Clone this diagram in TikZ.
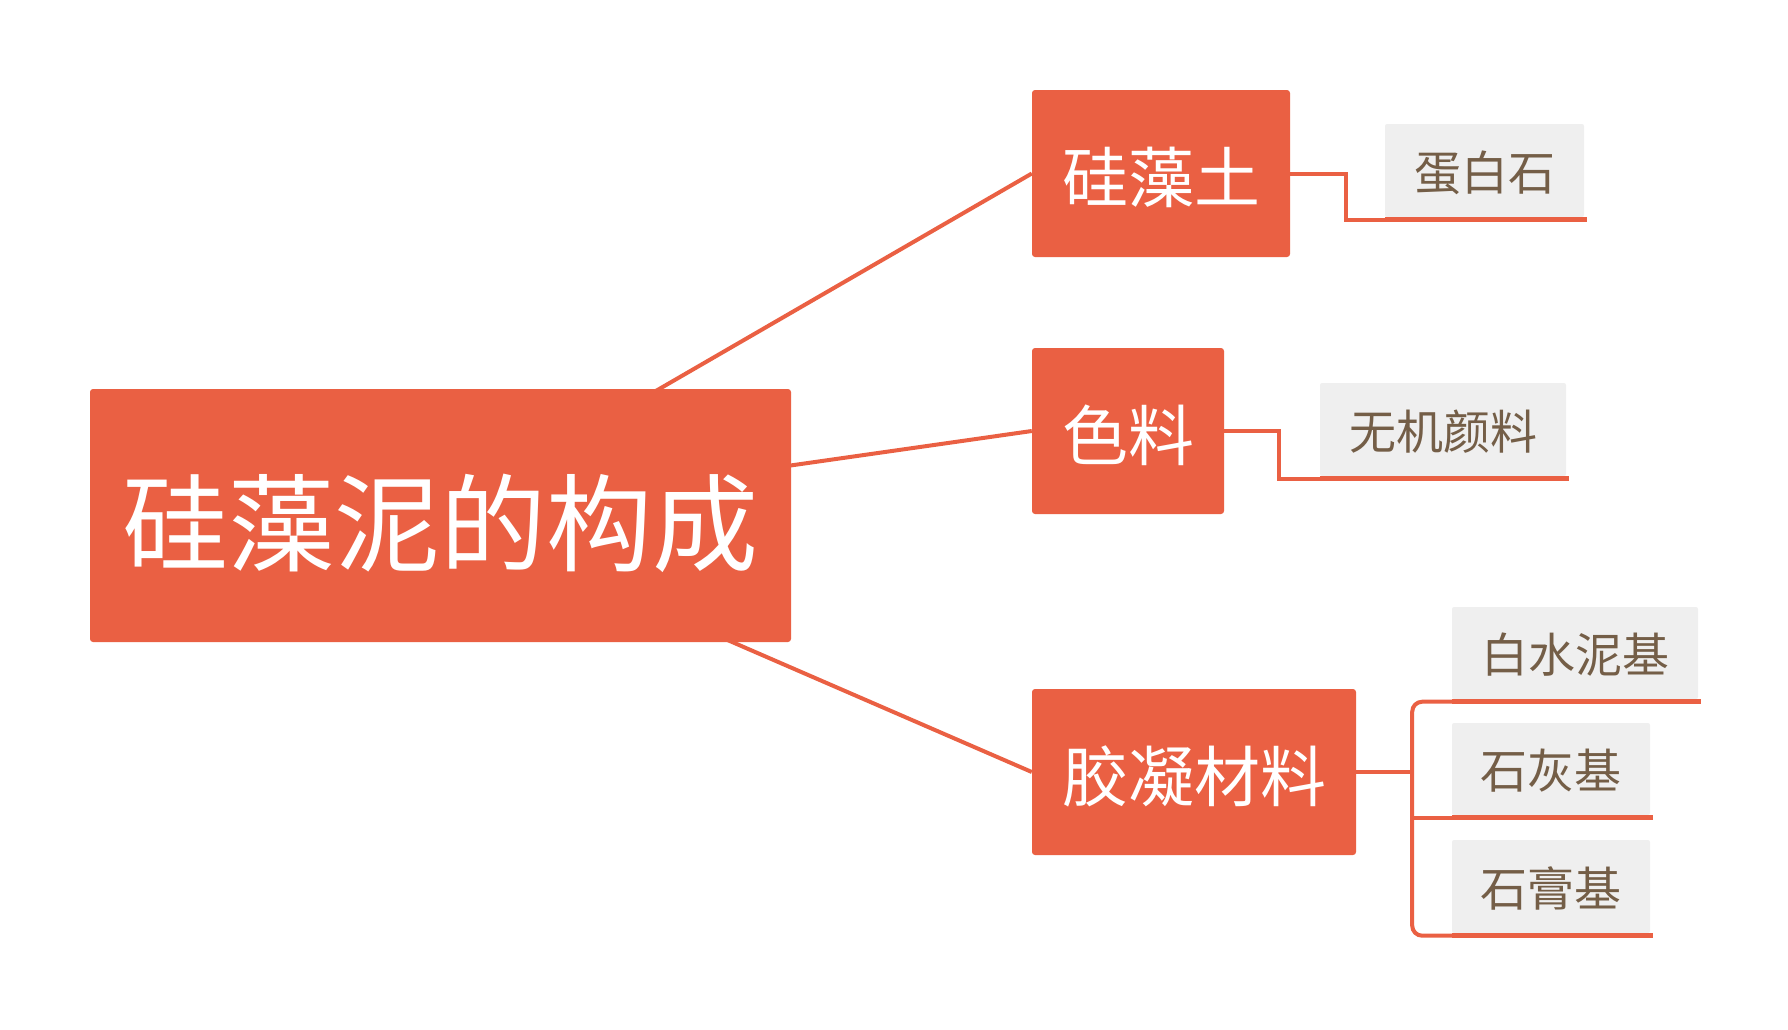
\documentclass[tikz,border=0pt]{standalone}
\usepackage{fontspec}
\newfontfamily\cjk{Noto Sans CJK SC}
\usetikzlibrary{calc,backgrounds}
\definecolor{brorange}{RGB}{234,96,67}
\definecolor{leafgray}{RGB}{239,239,239}
\definecolor{leafbrown}{RGB}{116,94,71}
\newcommand{\lowered}[2]{\raisebox{-#1pt}[\height][\depth]{#2}}
\tikzset{
  rootbox/.style={fill=brorange,text=white,rounded corners=3,inner sep=0,
    font=\cjk\fontsize{106}{110}\selectfont},
  midbox/.style={fill=brorange,text=white,rounded corners=3,inner sep=0,
    font=\cjk\fontsize{66}{70}\selectfont},
  leafbox/.style={fill=leafgray,text=leafbrown,rounded corners=2,inner sep=0,
    font=\cjk\fontsize{47}{50}\selectfont},
  conn/.style={draw=brorange,line width=4},
  uline/.style={draw=brorange,line width=5.5},
}
\begin{document}
\begin{tikzpicture}[x=1pt,y=-1pt]
\useasboundingbox (0,0) rectangle (1788,1029);
% main nodes
\node[rootbox,minimum width=701,minimum height=253] (root) at (440.5,515.5) {\lowered{8}{硅藻泥的构成}};
\node[midbox,minimum width=258,minimum height=167] (n1) at (1161,173.5) {\lowered{4}{硅藻土}};
\node[midbox,minimum width=192,minimum height=166] (n2) at (1128,431) {\lowered{4}{色料}};
\node[midbox,minimum width=324,minimum height=166] (n3) at (1194,772) {\lowered{4}{胶凝材料}};
% leaves
\node[leafbox,minimum width=199,minimum height=93] (l1) at (1484.5,170.5) {\lowered{2}{蛋白石}};
\node[leafbox,minimum width=246,minimum height=93] (l2) at (1443,429.5) {\lowered{2}{无机颜料}};
\node[leafbox,minimum width=246,minimum height=92] (l3) at (1575,653) {\lowered{2}{白水泥基}};
\node[leafbox,minimum width=198,minimum height=92] (l4) at (1551,769) {\lowered{2}{石灰基}};
\node[leafbox,minimum width=198,minimum height=93] (l5) at (1551,886.5) {\lowered{2}{石膏基}};
% underline anchors
\foreach \l in {l1,l2,l3,l4,l5}{
  \coordinate (\l u) at ($(\l.south west)+(0,2.5)$);
  \coordinate (\l e) at ($(\l.south east)+(3,2.5)$);
}
\foreach \l in {l1,l2,l3,l4,l5}{
  \draw[uline] (\l u) -- (\l e);
}
% root connectors behind
\begin{pgfonlayer}{background}
\draw[conn] (root.center) -- (n1.west);
\draw[conn] (root.center) -- (n2.west);
\draw[conn] (root.center) -- (n3.west);
\end{pgfonlayer}
% elbow connectors
\draw[conn] (n1.east) -- ++(56,0) |- (l1u);
\draw[conn] (n2.east) -- ++(55,0) |- (l2u);
\coordinate (j3) at ($(n3.east)+(56,0)$);
\draw[conn] (n3.east) -- (j3);
\draw[conn,rounded corners=10] (l3u) -| (j3) |- (l5u);
\draw[conn] (l4u -| j3) -- (l4u);
\end{tikzpicture}
\end{document}
